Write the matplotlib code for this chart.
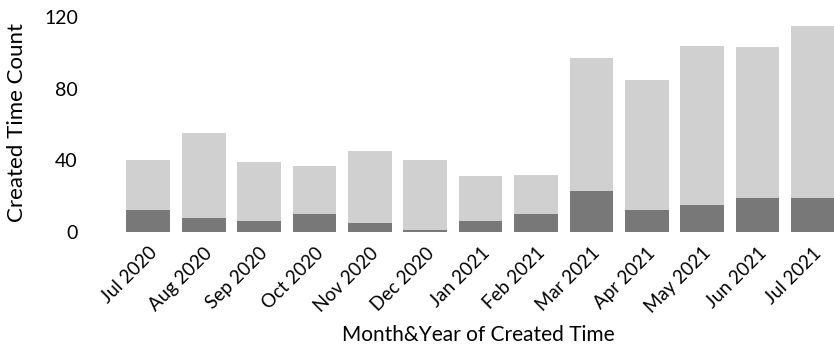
import numpy as np
import matplotlib.pyplot as plt

plt.rcParams['font.family'] = ['Lato', 'DejaVu Sans']

months = ['Jul 2020', 'Aug 2020', 'Sep 2020', 'Oct 2020', 'Nov 2020', 'Dec 2020',
          'Jan 2021', 'Feb 2021', 'Mar 2021', 'Apr 2021', 'May 2021', 'Jun 2021', 'Jul 2021']
totals = [40, 55, 39, 37, 45, 40, 31, 32, 97, 85, 104, 103, 115]
dark = [12, 8, 6, 10, 5, 1, 6, 10, 23, 12, 15, 19, 19]

light = [t - d for t, d in zip(totals, dark)]
x = np.arange(len(months))

fig = plt.figure(figsize=(8.34, 3.52), dpi=100)
ax = fig.add_axes([0.12, 0.33, 0.88, 0.642])

ax.bar(x, dark, width=0.79, color='#787878')
ax.bar(x, light, width=0.79, bottom=dark, color='#d0d0d0')

ax.set_xlim(-0.87, 12.38)
ax.set_ylim(-2.2, 124)
ax.set_yticks([0, 40, 80, 120])
ax.set_xticks(x)
ax.set_xticklabels(months, rotation=45, ha='right', rotation_mode='anchor', fontsize=13.5)
ax.tick_params(axis='y', length=0, pad=16, labelsize=14)
ax.tick_params(axis='x', length=0, pad=6)

for s in ax.spines.values():
    s.set_visible(False)

ax.set_ylabel('Created Time Count', fontsize=16, labelpad=12)
ax.set_xlabel('Month&Year of Created Time', fontsize=15)
ax.xaxis.set_label_coords(0.515, -0.395)

fig.savefig('out.png', dpi=100)
